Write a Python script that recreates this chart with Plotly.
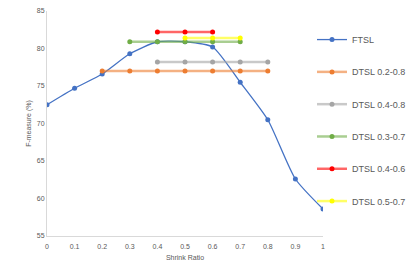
import plotly.graph_objects as go

ratios = [0, 0.1, 0.2, 0.3, 0.4, 0.5, 0.6, 0.7, 0.8, 0.9, 1.0]
ftsl = [72.5, 74.7, 76.6, 79.3, 80.9, 80.9, 80.2, 75.5, 70.5, 62.6, 58.6]

dtsl_names = ["DTSL 0.2-0.8", "DTSL 0.4-0.8", "DTSL 0.3-0.7", "DTSL 0.4-0.6", "DTSL 0.5-0.7"]
dtsl_x = [
    [0.2, 0.3, 0.4, 0.5, 0.6, 0.7, 0.8],
    [0.4, 0.5, 0.6, 0.7, 0.8],
    [0.3, 0.4, 0.5, 0.6, 0.7],
    [0.4, 0.5, 0.6],
    [0.5, 0.6, 0.7],
]
dtsl_y = [
    [77.0] * 7,
    [78.2] * 5,
    [80.9] * 5,
    [82.2] * 3,
    [81.4] * 3,
]
dtsl_colors = ["#ED7D31", "#A5A5A5", "#70AD47", "#FF0000", "#FFFF00"]
x_ticks = [0, 0.1, 0.2, 0.3, 0.4, 0.5, 0.6, 0.7, 0.8, 0.9, 1]
x_labels = ["0", "0.1", "0.2", "0.3", "0.4", "0.5", "0.6", "0.7", "0.8", "0.9", "1"]
y_ticks = [55, 60, 65, 70, 75, 80, 85]


def hex_rgba(h, a):
    h = h.lstrip("#")
    return "rgba(%d,%d,%d,%s)" % (int(h[0:2], 16), int(h[2:4], 16), int(h[4:6], 16), a)


fig = go.Figure()
fig.add_trace(go.Scatter(
    x=ratios, y=ftsl, name="FTSL", mode="lines+markers",
    line=dict(color="#4472C4", width=1.3, shape="spline", smoothing=0.6),
    marker=dict(color="#4472C4", size=5, symbol="circle"),
    legendgroup="g0",
))
for i, (nm, xs, ys, c) in enumerate(zip(dtsl_names, dtsl_x, dtsl_y, dtsl_colors)):
    fig.add_trace(go.Scatter(
        x=xs, y=ys, name=nm, mode="lines+markers",
        line=dict(color=hex_rgba(c, 0.6), width=2.5),
        marker=dict(color=c, size=5, symbol="circle"),
        legendgroup="g%d" % (i + 1),
    ))

axis_font = dict(family="Liberation Sans, Arial", size=7, color="#595959")
fig.update_layout(
    width=415, height=270,
    margin=dict(l=47, r=92, t=11, b=34, autoexpand=False),
    paper_bgcolor="white", plot_bgcolor="white",
    showlegend=True,
    legend=dict(
        x=(312 - 47) / 276, y=0.513, xanchor="left", yanchor="middle",
        font=dict(family="Liberation Sans, Arial", size=9, color="#595959"),
        tracegroupgap=13.3, itemwidth=30, traceorder="grouped",
        bgcolor="rgba(0,0,0,0)",
    ),
    xaxis=dict(
        range=[0, 1], tickvals=x_ticks, ticktext=x_labels,
        showgrid=False, zeroline=False, showline=True, linecolor="#D9D9D9", linewidth=1,
        ticks="", ticklen=0, tickfont=axis_font, ticklabelstandoff=4,
        title=dict(text="Shrink Ratio", font=axis_font, standoff=5),
    ),
    yaxis=dict(
        range=[55, 85], tickvals=y_ticks,
        showgrid=False, zeroline=False, showline=True, linecolor="#D9D9D9", linewidth=1,
        ticks="", ticklen=0, tickfont=axis_font,
        title=dict(text="F-measure (%)", font=axis_font, standoff=4),
    ),
)
fig.write_html(
    "out.html",
    config={"displayModeBar": False},
    post_script="document.body.style.margin='0';document.body.style.overflow='hidden';",
)
